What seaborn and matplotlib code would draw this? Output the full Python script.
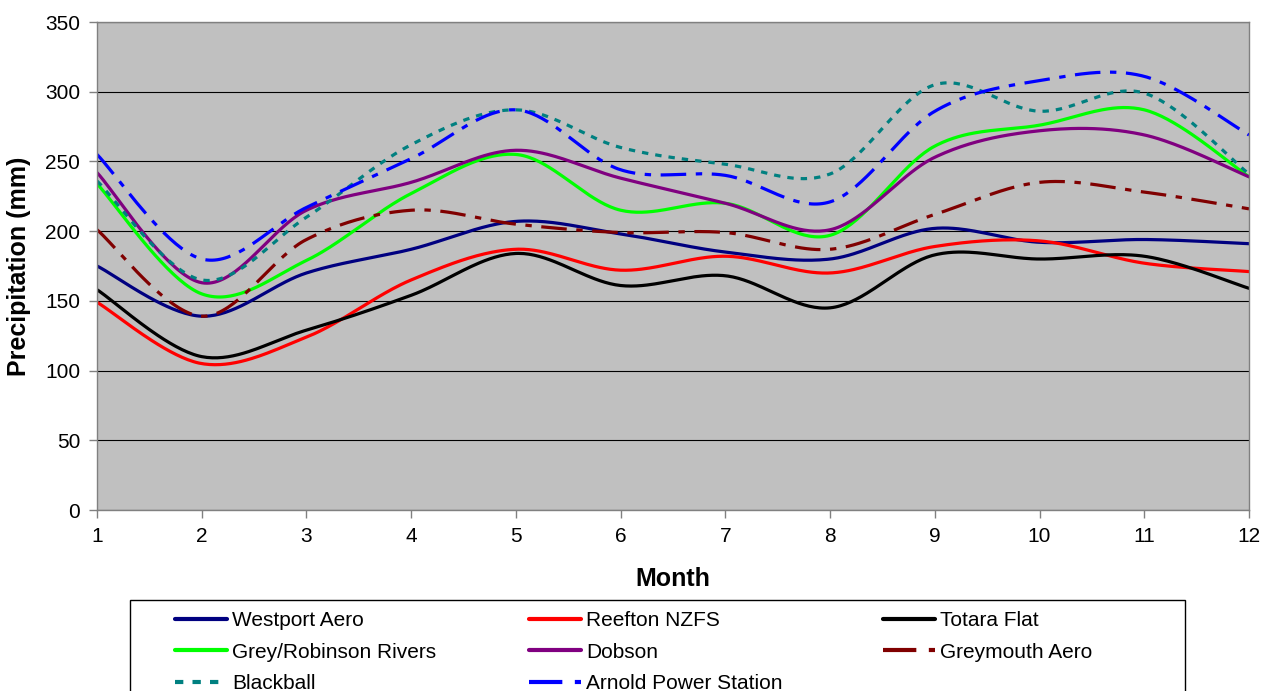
import numpy as np
import pandas as pd
import matplotlib
matplotlib.use("Agg")
import matplotlib.pyplot as plt
from matplotlib.patches import Rectangle
import seaborn as sns

# ---------------- data ----------------
months = [1, 2, 3, 4, 5, 6, 7, 8, 9, 10, 11, 12]
westport_aero = [175, 139, 170, 187, 207, 198, 185, 180, 202, 192, 194, 191]
reefton_nzfs = [149, 105, 124, 165, 187, 172, 182, 170, 189, 193, 177, 171]
totara_flat = [158, 110, 129, 154, 184, 161, 168, 145, 183, 180, 182, 159]
grey_robinson = [234, 155, 179, 227, 255, 215, 220, 197, 261, 276, 287, 239]
dobson = [242, 163, 215, 235, 258, 238, 220, 201, 253, 272, 269, 239]
greymouth_aero = [201, 139, 194, 215, 205, 199, 199, 187, 212, 235, 228, 216]
blackball = [236, 165, 210, 262, 287, 260, 248, 241, 305, 286, 299, 241]
arnold_power = [255, 180, 217, 252, 287, 244, 240, 221, 286, 308, 311, 269]

series_names = ["Westport Aero", "Reefton NZFS", "Totara Flat",
                "Grey/Robinson Rivers", "Dobson", "Greymouth Aero",
                "Blackball", "Arnold Power Station"]
series_values = [westport_aero, reefton_nzfs, totara_flat, grey_robinson,
                 dobson, greymouth_aero, blackball, arnold_power]

x_label = "Month"
y_label = "Precipitation (mm)"
y_ticks = [0, 50, 100, 150, 200, 250, 300, 350]

# ---------------- styles ----------------
colors = ["#000080", "#FF0000", "#000000", "#00FF00",
          "#800080", "#800000", "#008080", "#0000FF"]
styles = ["-", "-", "-", "-", "-",
          (0, (8, 3, 2, 3)), (0, (2, 2.2)), (0, (8, 3, 2, 3))]


def smooth(xv, yv, n=40):
    """Excel-like smoothed line (Catmull-Rom cubic Bezier segments)."""
    x = np.asarray(xv, float)
    y = np.asarray(yv, float)
    m = len(x)
    xs, ys = [], []
    for i in range(m - 1):
        i0 = max(i - 1, 0)
        i3 = min(i + 2, m - 1)
        p0 = np.array([x[i], y[i]])
        p3 = np.array([x[i + 1], y[i + 1]])
        c1 = p0 + (p3 - np.array([x[i0], y[i0]])) / 6.0
        c2 = p3 - (np.array([x[i3], y[i3]]) - p0) / 6.0
        t = np.linspace(0, 1, n, endpoint=(i == m - 2))
        pts = ((1 - t) ** 3)[:, None] * p0 + (3 * (1 - t) ** 2 * t)[:, None] * c1 \
            + (3 * (1 - t) * t ** 2)[:, None] * c2 + (t ** 3)[:, None] * p3
        xs.append(pts[:, 0])
        ys.append(pts[:, 1])
    return np.concatenate(xs), np.concatenate(ys)


sns.set_theme(style="white")
plt.rcParams["font.family"] = ["Liberation Sans", "DejaVu Sans"]

W, H = 1263, 691
fig = plt.figure(figsize=(W / 100, H / 100), dpi=100)
fig.patch.set_facecolor("white")
ax = fig.add_axes([97 / W, 1 - 510 / H, (1249 - 97) / W, (510 - 22) / H])
ax.set_facecolor("#C0C0C0")

handles = []
for name, vals, col, ls in zip(series_names, series_values, colors, styles):
    sx, sy = smooth(months, vals)
    df = pd.DataFrame({"x": sx, "y": sy})
    sns.lineplot(data=df, x="x", y="y", ax=ax, color=col, linewidth=2.3,
                 linestyle=ls, estimator=None, sort=False, label=name,
                 legend=False)
    handles.append(ax.lines[-1])

ax.set_xlim(1, 12)
ax.set_ylim(0, 350)
ax.set_xticks(months)
ax.set_yticks(y_ticks)
ax.yaxis.grid(True, color="black", linewidth=0.8)
ax.xaxis.grid(False)
ax.set_axisbelow(True)
for s in ax.spines.values():
    s.set_color("#808080")
    s.set_linewidth(1.0)
ax.tick_params(axis="both", which="major", direction="out", length=6,
               width=1, color="#808080", labelsize=15, labelcolor="black",
               pad=6, left=True, bottom=True)

ax.set_xlabel(x_label, fontsize=18, fontweight="bold", color="black")
ax.set_ylabel(y_label, fontsize=18, fontweight="bold", color="black")
ax.xaxis.set_label_coords(0.5, -(567 - 510) / 488)
ax.xaxis.label.set_va("top")
ax.yaxis.set_label_coords(-(97 - 31) / 1152, 0.5)

# ---------------- legend ----------------
fig.patches.append(Rectangle((130 / W, -0.05), (1185 - 130) / W,
                             0.05 + (691 - 600) / H, transform=fig.transFigure,
                             facecolor="white", edgecolor="black",
                             linewidth=1.0, zorder=0))
fs = 15
px_per_pt = 100 / 72
em = fs * px_per_pt
col_x = [175, 529, 883]
col_items = [[0, 3, 6], [1, 4, 7], [2, 5]]
for cx, idx in zip(col_x, col_items):
    leg = fig.legend([handles[i] for i in idx], [series_names[i] for i in idx],
                     loc="upper left", bbox_to_anchor=(cx / W, 1 - 611 / H),
                     bbox_transform=fig.transFigure, frameon=False,
                     fontsize=fs, handlelength=52 / em, handletextpad=5 / em,
                     labelspacing=0.6, borderpad=0, borderaxespad=0)
    for t in leg.get_texts():
        t.set_color("black")
    for ln in leg.get_lines():
        ln.set_linewidth(3.0)

fig.savefig("out.png", dpi=100)
